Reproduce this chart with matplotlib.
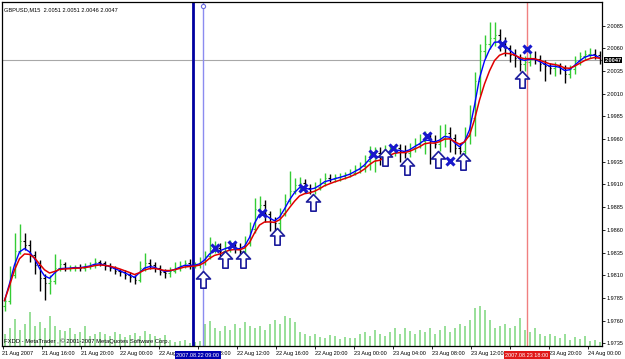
import numpy as np
import pandas as pd
import matplotlib
matplotlib.use("Agg")
import matplotlib.pyplot as plt
from matplotlib.path import Path

plt.rcParams['font.family'] = ['Liberation Sans', 'DejaVu Sans']

# GBPUSD, 30-minute bars
close = [1.9782, 1.9810, 1.9837, 1.9848, 1.9843, 1.9832, 1.9821, 1.9807, 1.9801, 1.9804,
         1.9818, 1.9822, 1.9818, 1.9818, 1.9819, 1.9818, 1.9820, 1.9821, 1.9824, 1.9823,
         1.9820, 1.9818, 1.9815, 1.9813, 1.9810, 1.9808, 1.9805, 1.9818, 1.9823, 1.9821,
         1.9818, 1.9814, 1.9812, 1.9815, 1.9818, 1.9821, 1.9823, 1.9821, 1.9821, 1.9824,
         1.9831, 1.9840, 1.9840, 1.9837, 1.9841, 1.9843, 1.9840, 1.9837, 1.9845, 1.9861,
         1.9883, 1.9887, 1.9877, 1.9869, 1.9867, 1.9878, 1.9892, 1.9903, 1.9909, 1.9912,
         1.9906, 1.9903, 1.9907, 1.9912, 1.9917, 1.9916, 1.9918, 1.9919, 1.9921, 1.9923,
         1.9927, 1.9930, 1.9936, 1.9944, 1.9945, 1.9939, 1.9946, 1.9949, 1.9950, 1.9947,
         1.9945, 1.9950, 1.9955, 1.9958, 1.9963, 1.9958, 1.9955, 1.9961, 1.9967, 1.9961,
         1.9950, 1.9947, 1.9963, 1.9983, 2.0024, 2.0057, 2.0065, 2.0071, 2.0075, 2.0067,
         2.0060, 2.0053, 2.0049, 2.0043, 2.0045, 2.0049, 2.0048, 2.0043, 2.0040, 2.0038,
         2.0040, 2.0038, 2.0032, 2.0037, 2.0046, 2.0051, 2.0054, 2.0054, 2.0053, 2.0047]
first_open = 1.9776
# wick lengths in pips
upper = [4, 10, 20, 18, 8, 6, 5, 6, 4, 6,
         15, 6, 3, 3, 2, 3, 3, 4, 5, 3,
         3, 3, 2, 2, 3, 3, 2, 8, 11, 5,
         3, 3, 3, 4, 6, 5, 4, 5, 4, 6,
         6, 12, 8, 5, 7, 6, 5, 6, 8, 8,
         12, 10, 6, 4, 5, 6, 8, 22, 8, 6,
         4, 5, 6, 5, 6, 4, 4, 4, 3, 4,
         4, 5, 6, 8, 6, 6, 8, 6, 5, 5,
         6, 6, 6, 8, 6, 5, 6, 15, 10, 6,
         5, 6, 10, 15, 10, 8, 10, 18, 14, 6,
         5, 4, 6, 5, 6, 6, 8, 5, 4, 4,
         5, 4, 4, 5, 6, 5, 4, 6, 5, 4]
lower = [5, 4, 3, 4, 5, 8, 10, 14, 18, 12,
         4, 3, 3, 3, 3, 3, 3, 3, 3, 3,
         4, 3, 4, 4, 4, 5, 5, 3, 3, 4,
         4, 4, 5, 4, 3, 3, 3, 4, 3, 3,
         3, 3, 5, 6, 4, 5, 5, 6, 4, 3,
         4, 6, 8, 10, 15, 8, 3, 4, 4, 6,
         5, 4, 4, 3, 4, 3, 3, 4, 3, 3,
         3, 4, 6, 10, 20, 8, 6, 5, 8, 12,
         6, 5, 4, 5, 15, 25, 5, 8, 10, 15,
         6, 4, 4, 8, 20, 15, 8, 6, 8, 10,
         8, 8, 10, 8, 8, 5, 5, 8, 16, 6,
         8, 6, 10, 5, 5, 4, 4, 5, 5, 4]
volume = [120, 180, 270, 160, 220, 340, 200, 240, 180, 300,
          200, 160, 150, 180, 120, 140, 200, 100, 120, 140,
          120, 100, 140, 120, 90, 110, 130, 100, 150, 120,
          100, 80, 110, 60, 40, 50, 60, 30, 40, 50,
          220, 250, 180, 150, 200, 160, 220, 180, 240, 200,
          180, 200, 160, 220, 260, 220, 300, 280, 240, 140,
          120, 100, 120, 90, 80, 110, 100, 70, 90, 80,
          80, 120, 140, 100, 160, 120, 100, 140, 180, 120,
          180, 150, 120, 160, 140, 180, 120, 160, 200, 140,
          180, 220, 200, 260, 380, 400, 360, 260, 180, 200,
          220, 180, 200, 280, 160, 140, 180, 120, 100, 120,
          100, 80, 120, 60, 90, 70, 100, 50, 60, 40]

# signals (bar position, price)
cross_x = [42, 45.5, 51.5, 59.7, 73.7, 77.7, 84.5, 89.1, 99.5, 104.5]
cross_y = [1.9840, 1.9843, 1.9878, 1.9906, 1.9944, 1.9950, 1.9963, 1.9936, 2.0065, 2.0059]
arrow_x = [39.7, 44.1, 47.7, 54.5, 61.6, 76.1, 80.5, 86.7, 91.7, 103.5]
arrow_y = [1.9815, 1.9837, 1.9837, 1.9862, 1.9900, 1.9949, 1.9939, 1.9947, 1.9945, 2.0035]

price_levels = [2.0085, 2.0060, 2.0035, 2.0010, 1.9985, 1.9960, 1.9935, 1.9910,
                1.9885, 1.9860, 1.9835, 1.9810, 1.9785, 1.9760, 1.9735]
last_price = 2.0047
time_labels = ['21 Aug 2007', '21 Aug 16:00', '21 Aug 20:00', '22 Aug 00:00', '22 Aug 04:00',
               '22 Aug 08:00', '22 Aug 12:00', '22 Aug 16:00', '22 Aug 20:00', '23 Aug 00:00',
               '23 Aug 04:00', '23 Aug 08:00', '23 Aug 12:00', '23 Aug 16:00', '23 Aug 20:00',
               '24 Aug 00:00']
vline_blue = 37.7
vline_light = 39.7
vline_red = 104.5

n = len(close)
x = np.arange(n)
c = np.array(close)
o = np.concatenate([[first_open], c[:-1]])
hi = np.maximum(o, c) + np.array(upper) * 1e-4
lo = np.minimum(o, c) - np.array(lower) * 1e-4
up = c >= o

fig = plt.figure(figsize=(6.25, 3.59), dpi=100)
rect = [2 / 625, 13 / 359, 600 / 625, 344 / 359]

# volumes underneath
vax = fig.add_axes(rect)
vax.vlines(x, 0, volume, colors='#86d986', lw=1.2)
vax.set_xlim(-0.5, n - 0.5)
vax.set_ylim(0, 3440)
vax.axis('off')

ax = fig.add_axes(rect)
ax.patch.set_visible(False)
ax.set_xlim(-0.5, n - 0.5)
ax.set_ylim(1.9732, 2.0111)

ax.axhline(last_price, color='#a8a8a8', lw=0.8, zorder=1)
ax.axvline(vline_blue, color='#0000a0', lw=2, zorder=1)
ax.axvline(vline_light, color='#8c8cf0', lw=1, zorder=1)
ax.axvline(vline_red, color='#f08080', lw=1, zorder=1)
ax.plot([vline_light], [2.0107], marker='o', ms=3, mfc='white', mec='#6c6ce0', mew=0.8)

cols = np.where(up, '#33cc33', '#000000')
ax.vlines(x, lo, hi, colors=cols, lw=1, zorder=2)
ax.hlines(o, x - 0.35, x, colors=cols, lw=0.8, zorder=2)
ax.hlines(c, x, x + 0.35, colors=cols, lw=0.8, zorder=2)

fast = pd.Series(c).ewm(span=3).mean()
slow = pd.Series(c).ewm(span=6).mean()
ax.plot(x, fast, color='#0000ff', lw=1, zorder=3)
ax.plot(x, slow, color='#e00000', lw=1.1, zorder=3)

arrow = Path([(0, 0), (0.42, -0.45), (0.16, -0.45), (0.16, -1), (-0.16, -1),
              (-0.16, -0.45), (-0.42, -0.45), (0, 0)], closed=True)
ax.plot(arrow_x, arrow_y, ls='none', marker=arrow, ms=24, mfc='white',
        mec='#1c1c9c', mew=1.2, zorder=4)
ax.plot(cross_x, cross_y, ls='none', marker='x', ms=6, mew=2.2,
        color='#1818cc', zorder=5)

# right price scale
fs = 4.0
ax.yaxis.tick_right()
ax.set_yticks(price_levels)
ax.set_yticklabels([f'{p:.4f}' for p in price_levels])
ax.tick_params(axis='y', length=2.5, width=0.6, pad=0.8, labelsize=fs)
ax.text(1.0045, last_price, f'{last_price:.4f}', transform=ax.get_yaxis_transform(),
        ha='left', va='center', fontsize=fs, color='white', fontweight='bold',
        bbox=dict(facecolor='black', edgecolor='none', pad=0.5), zorder=6)

# time scale
label_pos = -0.4 + np.arange(len(time_labels)) * 7.81
ax.set_xticks(label_pos)
ax.set_xticklabels(time_labels, ha='left')
ax.tick_params(axis='x', length=2, width=0.6, pad=1.5, labelsize=fs)
ax.text(38.7, -0.027, '2007.08.22 09:00', transform=ax.get_xaxis_transform(),
        ha='center', va='center', fontsize=fs, color='white',
        bbox=dict(facecolor='#0000b0', edgecolor='none', pad=1.0), zorder=6)
ax.text(104.5, -0.027, '2007.08.23 18:00', transform=ax.get_xaxis_transform(),
        ha='center', va='center', fontsize=fs, color='white',
        bbox=dict(facecolor='#e01818', edgecolor='none', pad=1.0), zorder=6)

for s in ax.spines.values():
    s.set_color('black')
    s.set_linewidth(0.9)

ax.text(0.004, 0.986, 'GBPUSD,M15  2.0051 2.0051 2.0046 2.0047', transform=ax.transAxes,
        ha='left', va='top', fontsize=4.1)
ax.text(0.004, 0.006, 'FXDD - MetaTrader , \u00a9 2001-2007 MetaQuotes Software Corp.',
        transform=ax.transAxes, ha='left', va='bottom', fontsize=4.2)

fig.savefig('out.png', dpi=100, facecolor='white')
